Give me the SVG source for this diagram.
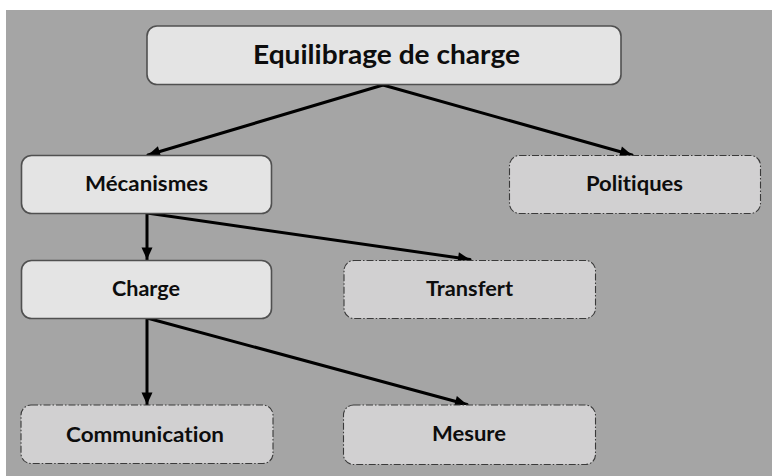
<svg xmlns="http://www.w3.org/2000/svg" width="772" height="476" viewBox="0 0 772 476">
  <style>
    .solid { fill: #e4e4e4; stroke: #505050; stroke-width: 1.6; }
    .dashed { fill: #d1d0d1; stroke: #3a3a3a; stroke-width: 1.1; stroke-dasharray: 7 2 1.5 2; }
    .lbl { font-family: Lato, "Open Sans", "Liberation Sans", sans-serif; font-weight: bold; fill: #0d0d0d; text-anchor: middle; font-variant-ligatures: none; }
    .edge { fill: none; stroke: #000; stroke-width: 3; stroke-linecap: round; }
  </style>
  <defs>
    <marker id="arrow" markerUnits="userSpaceOnUse" markerWidth="14" markerHeight="14" viewBox="0 0 14 14" refX="13" refY="7" orient="auto">
      <path d="M1,1.5 L13,7 L1,12.5 Z" fill="#000"/>
    </marker>
  </defs>

  <rect width="772" height="476" fill="#ffffff"/>
  <rect x="6" y="10" width="766" height="466" fill="#a5a5a5"/>

  <g id="connectors">
    <line class="edge" x1="383" y1="85" x2="148" y2="155" marker-end="url(#arrow)"/>
    <line class="edge" x1="383" y1="85" x2="632" y2="155" marker-end="url(#arrow)"/>
    <line class="edge" x1="147" y1="213" x2="147" y2="259.5" marker-end="url(#arrow)"/>
    <line class="edge" x1="147" y1="213" x2="470" y2="259.5" marker-end="url(#arrow)"/>
    <line class="edge" x1="147" y1="318" x2="147" y2="404.5" marker-end="url(#arrow)"/>
    <line class="edge" x1="147" y1="318" x2="467" y2="404.5" marker-end="url(#arrow)"/>
  </g>

  <g id="equilibrage">
    <rect class="solid" x="147" y="26" width="474" height="58.5" rx="10"/>
    <text class="lbl" x="386.5" y="64" font-size="26" textLength="267" lengthAdjust="spacingAndGlyphs">Equilibrage de charge</text>
  </g>
  <g id="mecanismes">
    <rect class="solid" x="21.5" y="155.5" width="250" height="58" rx="10"/>
    <text class="lbl" x="146.5" y="191" font-size="20" textLength="123" lengthAdjust="spacingAndGlyphs">Mécanismes</text>
  </g>
  <g id="politiques">
    <rect class="dashed" x="509.5" y="155.5" width="251" height="58" rx="10"/>
    <text class="lbl" x="634.5" y="191" font-size="20" textLength="97" lengthAdjust="spacingAndGlyphs">Politiques</text>
  </g>
  <g id="charge">
    <rect class="solid" x="21.5" y="260.5" width="250" height="58" rx="10"/>
    <text class="lbl" x="146" y="296" font-size="20" textLength="68" lengthAdjust="spacingAndGlyphs">Charge</text>
  </g>
  <g id="transfert">
    <rect class="dashed" x="344" y="260.5" width="251.5" height="58" rx="10"/>
    <text class="lbl" x="469.5" y="296" font-size="20" textLength="87" lengthAdjust="spacingAndGlyphs">Transfert</text>
  </g>
  <g id="communication">
    <rect class="dashed" x="21" y="405" width="252" height="58.5" rx="10"/>
    <text class="lbl" x="145" y="441.5" font-size="20" textLength="158" lengthAdjust="spacingAndGlyphs">Communication</text>
  </g>
  <g id="mesure">
    <rect class="dashed" x="343.5" y="405" width="252" height="59.5" rx="10"/>
    <text class="lbl" x="469" y="441" font-size="20" textLength="74" lengthAdjust="spacingAndGlyphs">Mesure</text>
  </g>
</svg>
